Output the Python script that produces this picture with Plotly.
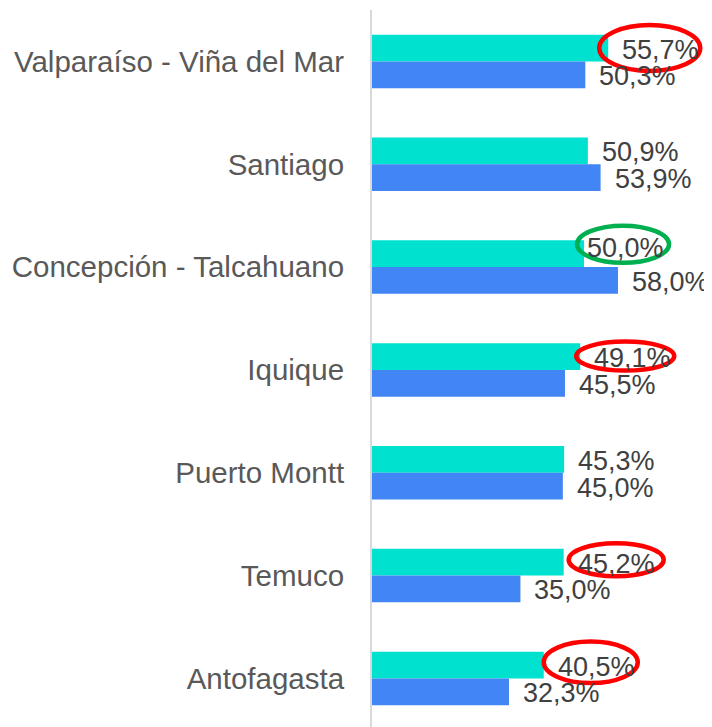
import plotly.graph_objects as go

# ---- data ----
categories = [
    "Valparaíso - Viña del Mar",
    "Santiago",
    "Concepción - Talcahuano",
    "Iquique",
    "Puerto Montt",
    "Temuco",
    "Antofagasta",
]
series_a = [55.7, 50.9, 50.0, 49.1, 45.3, 45.2, 40.5]   # cyan (top bar)
series_b = [50.3, 53.9, 58.0, 45.5, 45.0, 35.0, 32.3]   # blue (bottom bar)

# highlighted labels (category, colour)
highlights_red = ["Valparaíso - Viña del Mar", "Iquique", "Temuco", "Antofagasta"]
highlights_green = ["Concepción - Talcahuano"]

# ---- style ----
CYAN = "#00e2cf"
BLUE = "#4285f4"
RED = "#ff0000"
GREEN = "#00b050"
FONT = "Liberation Sans, Arial, sans-serif"
BARGAP = 0.48
PX_PER_UNIT_X = 4.241  # px per percentage point (layout)
BODY = 8  # default page body margin of the browser

def fmt(v):
    return f"{v:.1f}".replace(".", ",") + "%"

fig = go.Figure()
fig.add_trace(go.Bar(y=categories, x=series_a, orientation="h",
                     marker=dict(color=CYAN, line=dict(width=0)),
                     name="A", showlegend=False, hoverinfo="x+y"))
fig.add_trace(go.Bar(y=categories, x=series_b, orientation="h",
                     marker=dict(color=BLUE, line=dict(width=0)),
                     name="B", showlegend=False, hoverinfo="x+y"))

half = (1 - BARGAP) / 4  # offset from category centre to each bar centre (data units)

# manual label nudges (px): (series, category) -> (dx, dy_screen)
label_nudge = {("a", "Concepción - Talcahuano"): (-11, -7)}

annotations = []
for i, cat in enumerate(categories):
    for key, vals, off in (("a", series_a, -half), ("b", series_b, half)):
        v = vals[i]
        dx, dy = label_nudge.get((key, cat), (0, 0))
        annotations.append(dict(
            x=v, y=i + off, xref="x", yref="y",
            text=fmt(v), showarrow=False,
            xanchor="left", yanchor="middle",
            xshift=12 + dx, yshift=-1.5 - dy,
            font=dict(family=FONT, size=27, color="#404040"),
        ))

# ellipses around highlighted cyan labels: offsets in px relative to bar end / bar centre (screen, down +)
ellipse_geom = {
    "Valparaíso - Viña del Mar": (-9, 92, -23, 23),
    "Concepción - Talcahuano": (-7, 85, -28, 9),
    "Iquique": (-4, 94, -15, 14),
    "Temuco": (5, 100, -19, 14),
    "Antofagasta": (0, 94, -23.5, 18),
}
shapes = []
for cat in highlights_red + highlights_green:
    i = categories.index(cat)
    v = series_a[i]
    x0, x1, y0, y1 = ellipse_geom[cat]
    color = GREEN if cat in highlights_green else RED
    shapes.append(dict(
        type="circle", layer="above",
        xref="x", yref="y",
        xsizemode="pixel", ysizemode="pixel",
        xanchor=v, yanchor=i - half,
        x0=x0, x1=x1, y0=-y0, y1=-y1,
        line=dict(color=color, width=4.5),
        fillcolor="rgba(0,0,0,0)",
    ))

W, H = 712 - BODY, 727 - BODY
ML, MT = 372 - BODY, 10 - BODY
plot_h = H - MT
unit_px = 102.83
y_bottom = -0.5 + plot_h / unit_px

fig.update_layout(
    width=W, height=H,
    margin=dict(l=ML, r=0, t=MT, b=0, pad=0),
    paper_bgcolor="white", plot_bgcolor="white",
    barmode="group", bargap=BARGAP, bargroupgap=0,
    showlegend=False,
    annotations=annotations,
    shapes=shapes,
    xaxis=dict(range=[0, (W - ML) / PX_PER_UNIT_X], visible=False,
               showgrid=False, zeroline=False, fixedrange=True),
    yaxis=dict(type="category", categoryorder="array", categoryarray=categories,
               range=[y_bottom, -0.5], showgrid=False, zeroline=False,
               showline=True, linecolor="#d9d9d9", linewidth=2,
               ticks="", ticklabelstandoff=20,
               tickfont=dict(family=FONT, size=29.5, color="#595959"),
               fixedrange=True),
)

fig.write_html("out.html")
